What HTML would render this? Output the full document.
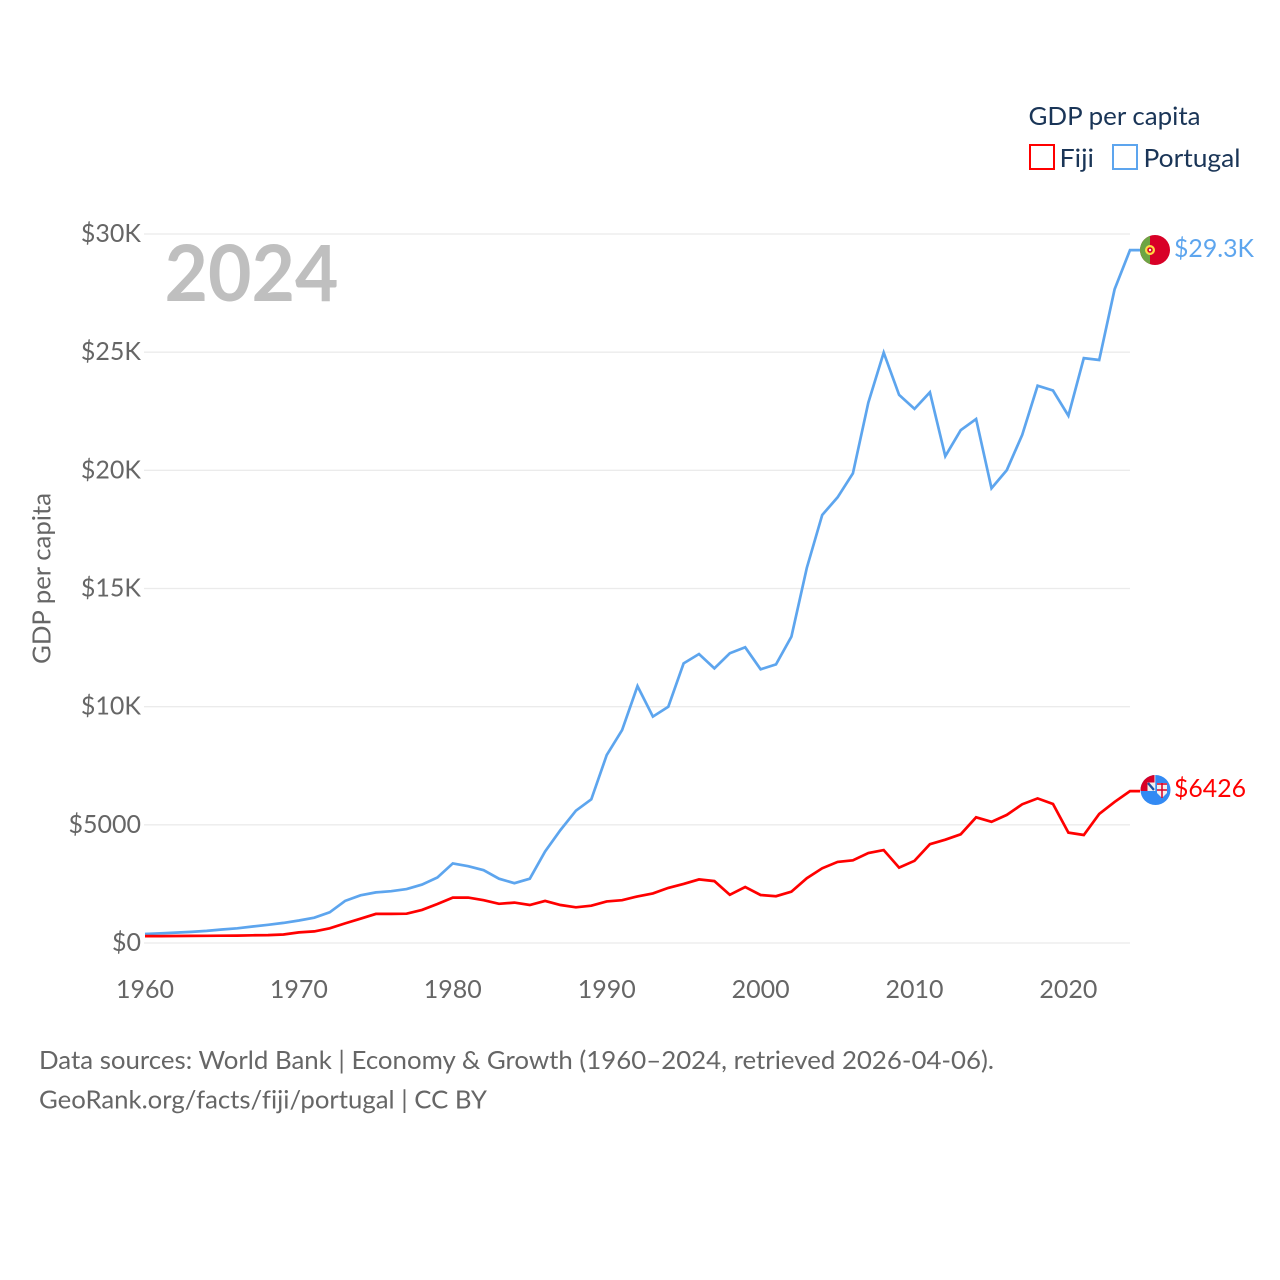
<!DOCTYPE html>
<html lang="en">
<head>
<meta charset="utf-8">
<title>GDP per capita: Fiji and Portugal</title>
<style>
html,body{margin:0;padding:0;background:#fff;width:1280px;height:1280px;overflow:hidden}
svg{display:block;font-family:"Lato","Carlito","Liberation Sans",sans-serif;font-variant-ligatures:none}
</style>
</head>
<body>
<svg id="chart" xmlns="http://www.w3.org/2000/svg" width="1280" height="1280" viewBox="0 0 1280 1280">
  <defs>
    <clipPath id="flag-clip-pt"><circle cx="1155" cy="250" r="15"/></clipPath>
    <clipPath id="flag-clip-fj"><circle cx="1155.5" cy="790" r="15"/></clipPath>
  </defs>
  <g id="grid"></g>
  <g id="y-ticks"></g>
  <g id="x-ticks"></g>
  <text transform="translate(50.5,664) rotate(-90)" font-size="25" fill="#666" textLength="171" lengthAdjust="spacingAndGlyphs">GDP per capita</text>
  <text x="164.5" y="301" font-size="78" font-weight="700" fill="#bfbfbf" textLength="174" lengthAdjust="spacingAndGlyphs">2024</text>
  <g id="series"></g>

  <g clip-path="url(#flag-clip-pt)">
    <rect x="1140" y="235" width="30" height="30" fill="#d80027"/>
    <rect x="1140" y="235" width="10" height="30" fill="#6da544"/>
    <circle cx="1150" cy="250" r="5" fill="#ffda44"/>
    <circle cx="1150" cy="250" r="2.8" fill="#d80027"/>
    <circle cx="1150" cy="250" r="1.2" fill="#f0f0f0"/>
  </g>
  <g clip-path="url(#flag-clip-fj)">
    <rect x="1140" y="775" width="31" height="31" fill="#338af3"/>
    <rect x="1140" y="775" width="14.5" height="16" fill="#d80027"/>
    <rect x="1147.5" y="782.5" width="7" height="8.5" fill="#f0f0f0"/>
    <path d="M1148 783L1154 790" stroke="#1a4fa0" stroke-width="2.4"/>
    <rect x="1154.5" y="775" width="0.8" height="16" fill="#f0f0f0"/>
    <path d="M1157 783H1167V793L1162 798L1157 793Z" fill="#f0f0f0"/>
    <path d="M1162 783V798M1157 790H1167M1157 784H1167" stroke="#d80027" stroke-width="1.5"/>
  </g>

  <text x="1174" y="257" font-size="25" fill="#5da5ee" textLength="80" lengthAdjust="spacingAndGlyphs">$29.3K</text>
  <text x="1174" y="797" font-size="25" fill="#ff0000" textLength="72" lengthAdjust="spacingAndGlyphs">$6426</text>

  <g>
    <text x="1028.5" y="125" font-size="25" fill="#1a3557" textLength="172" lengthAdjust="spacingAndGlyphs">GDP per capita</text>
    <g>
      <rect x="1030" y="145" width="24" height="24" fill="none" stroke="#ff0000" stroke-width="2"/>
      <text x="1059.5" y="167" font-size="25" fill="#1a3557" textLength="34.5" lengthAdjust="spacingAndGlyphs">Fiji</text>
    </g>
    <g>
      <rect x="1113" y="145" width="24" height="24" fill="none" stroke="#5da5ee" stroke-width="2"/>
      <text x="1143.5" y="167" font-size="25" fill="#1a3557" textLength="97" lengthAdjust="spacingAndGlyphs">Portugal</text>
    </g>
  </g>

  <text x="39" y="1069" font-size="25" fill="#666" textLength="955" lengthAdjust="spacingAndGlyphs">Data sources: World Bank | Economy &amp; Growth (1960–2024, retrieved 2026-04-06).</text>
  <text x="39" y="1108.5" font-size="25" fill="#666" textLength="448" lengthAdjust="spacingAndGlyphs">GeoRank.org/facts/fiji/portugal | CC BY</text>
</svg>
<script>
const startYear = 1960;
const portugalValues = [380,410,440,470,510,570,620,700,770,850,950,1070,1300,1780,2020,2140,2190,2280,2470,2770,3370,3250,3080,2720,2530,2720,3870,4780,5600,6080,7950,9010,10870,9580,10000,11830,12230,11620,12260,12510,11580,11790,12960,15870,18110,18860,19870,22860,24980,23190,22600,23300,20600,21700,22170,19240,20010,21500,23580,23380,22310,24750,24670,27660,29320];
const fijiValues = [290,290,295,300,305,310,315,325,335,360,450,490,620,830,1030,1230,1230,1240,1400,1650,1920,1920,1810,1660,1710,1610,1780,1610,1510,1580,1760,1810,1970,2100,2330,2500,2690,2620,2040,2370,2030,1980,2170,2740,3160,3430,3500,3810,3930,3190,3480,4180,4370,4600,5320,5130,5420,5870,6120,5880,4670,4570,5460,5970,6426];
const yTickValues = [0,5000,10000,15000,20000,25000,30000];
const yTickLabels = ['$0','$5000','$10K','$15K','$20K','$25K','$30K'];
const xTickValues = [1960,1970,1980,1990,2000,2010,2020];

const NS = 'http://www.w3.org/2000/svg';
const xScale = year => 145 + (year - 1960) * 15.39;
const yScale = value => 943 - value * 709 / 30000;
const gridGroup = document.getElementById('grid');
const yTickGroup = document.getElementById('y-ticks');
const xTickGroup = document.getElementById('x-ticks');
const seriesGroup = document.getElementById('series');

yTickValues.forEach((value, i) => {
  const line = document.createElementNS(NS, 'line');
  
  
  line.setAttribute('x1', 144);
  line.setAttribute('x2', 1130);
  line.setAttribute('y1', yScale(value));
  line.setAttribute('y2', yScale(value));
  line.setAttribute('stroke', '#ebebeb');
  line.setAttribute('stroke-width', 1.3);
  gridGroup.appendChild(line);

  const label = document.createElementNS(NS, 'text');
  
  
  label.setAttribute('x', 141);
  label.setAttribute('y', yScale(value) + 8);
  label.setAttribute('text-anchor', 'end');
  label.setAttribute('font-size', 25);
  label.setAttribute('fill', '#666');
  label.textContent = yTickLabels[i];
  yTickGroup.appendChild(label);
});

xTickValues.forEach(year => {
  const label = document.createElementNS(NS, 'text');
  
  
  label.setAttribute('x', xScale(year));
  label.setAttribute('y', 998);
  label.setAttribute('text-anchor', 'middle');
  label.setAttribute('font-size', 25);
  label.setAttribute('fill', '#666');
  label.textContent = String(year);
  xTickGroup.appendChild(label);
});

function seriesPoints(values) {
  const pts = values.map((v, i) => xScale(startYear + i).toFixed(1) + ',' + yScale(v).toFixed(1));
  pts.push('1140,' + yScale(values[values.length - 1]).toFixed(1));
  return pts.join(' ');
}

const portugalLine = document.createElementNS(NS, 'polyline');


portugalLine.setAttribute('points', seriesPoints(portugalValues));
portugalLine.setAttribute('fill', 'none');
portugalLine.setAttribute('stroke', '#5da5ee');
portugalLine.setAttribute('stroke-width', 2.7);
seriesGroup.appendChild(portugalLine);

const fijiLine = document.createElementNS(NS, 'polyline');


fijiLine.setAttribute('points', seriesPoints(fijiValues));
fijiLine.setAttribute('fill', 'none');
fijiLine.setAttribute('stroke', '#ff0000');
fijiLine.setAttribute('stroke-width', 2.7);
seriesGroup.appendChild(fijiLine);
</script>
</body>
</html>
